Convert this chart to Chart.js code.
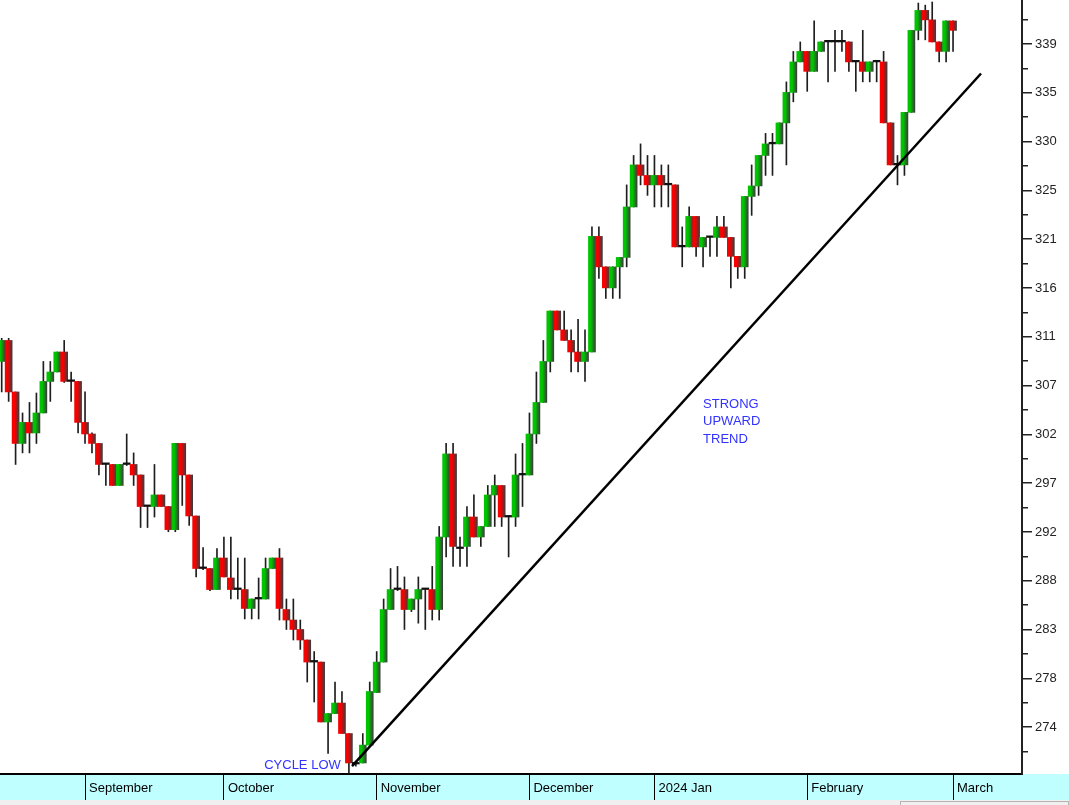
<!DOCTYPE html>
<html>
<head>
<meta charset="utf-8">
<script src="https://cdn.jsdelivr.net/npm/chart.js@4.4.1/dist/chart.umd.min.js"></script>
<style>
  html, body { margin: 0; padding: 0; background: #fff; }
  canvas { display: block; }
</style>
</head>
<body>
<canvas id="chart" width="1069" height="805"></canvas>
<script>
// daily candles, index 0 = 16 Aug 2023, last = 1 Mar 2024
const openPx = [
  308.8, 310.8, 305.9, 301.0, 303.0, 302.0, 303.9, 306.9, 307.8, 309.7,
  306.9, 306.9, 303.0, 301.9, 301.0, 299.0, 299.0, 297.0, 299.0, 299.0,
  298.0, 295.0, 295.0, 296.1, 295.0, 292.8, 301.0, 298.0, 294.1, 289.1,
  289.1, 287.1, 290.1, 288.2, 287.1, 287.1, 285.3, 286.2, 286.2, 289.1,
  290.1, 285.2, 284.2, 283.3, 282.3, 280.2, 280.2, 274.5, 275.3, 276.3,
  273.4, 270.5, 270.6, 272.3, 277.3, 280.2, 285.2, 287.1, 287.1, 285.2,
  286.2, 287.1, 287.1, 285.2, 292.1, 300.0, 291.0, 291.2, 294.0, 292.1,
  293.1, 296.1, 297.0, 294.0, 294.0, 298.0, 298.0, 301.9, 304.9, 308.8,
  313.6, 311.8, 310.8, 309.7, 308.8, 309.7, 320.7, 317.8, 315.8, 317.8,
  318.7, 323.5, 327.5, 326.5, 325.6, 326.5, 325.6, 325.6, 319.7, 319.7,
  322.6, 319.7, 320.6, 320.6, 321.6, 320.6, 318.8, 317.8, 324.5, 325.5,
  328.4, 329.5, 329.5, 331.5, 334.4, 337.3, 338.3, 336.4, 338.3, 339.2,
  339.2, 339.2, 339.2, 337.3, 337.3, 336.4, 337.3, 337.3, 331.5, 327.5,
  327.5, 332.5, 340.3, 342.2, 341.3, 339.2, 338.3, 341.2
];
const closePx = [
  310.8, 305.9, 301.0, 303.0, 302.0, 303.9, 306.9, 307.8, 309.7, 306.9,
  306.9, 303.0, 301.9, 301.0, 299.0, 299.0, 297.0, 299.0, 299.0, 298.0,
  295.0, 295.0, 296.1, 295.0, 292.8, 301.0, 298.0, 294.1, 289.1, 289.1,
  287.1, 290.1, 288.3, 287.1, 287.1, 285.3, 286.2, 286.2, 289.1, 290.1,
  285.3, 284.2, 283.3, 282.3, 280.2, 280.2, 274.5, 275.3, 276.3, 273.4,
  270.6, 270.5, 272.3, 277.4, 280.2, 285.2, 287.1, 287.1, 285.2, 286.2,
  287.1, 287.1, 285.2, 292.1, 300.0, 291.2, 291.0, 294.0, 292.1, 293.1,
  296.1, 297.0, 294.0, 294.0, 298.0, 298.0, 301.9, 304.9, 308.8, 313.6,
  311.8, 310.8, 309.7, 308.8, 309.7, 320.7, 317.8, 315.8, 317.8, 318.7,
  323.5, 327.5, 326.5, 325.6, 326.5, 325.6, 325.6, 319.7, 319.7, 322.6,
  319.7, 320.6, 320.6, 321.6, 320.6, 318.8, 317.8, 324.5, 325.5, 328.4,
  329.5, 329.5, 331.5, 334.4, 337.3, 338.3, 336.4, 338.3, 339.2, 339.2,
  339.2, 339.2, 337.3, 337.3, 336.4, 337.3, 337.3, 331.5, 327.5, 327.5,
  332.5, 340.3, 342.2, 341.3, 339.2, 338.3, 341.2, 340.3
];
const highPx = [
  311.0, 311.0, 305.9, 303.9, 304.9, 305.8, 308.8, 308.8, 309.7, 310.8,
  307.8, 306.9, 305.9, 302.0, 301.0, 299.1, 299.0, 299.0, 301.9, 300.1,
  298.0, 295.0, 299.0, 296.1, 295.0, 301.0, 301.0, 298.0, 294.1, 291.1,
  289.1, 291.0, 292.1, 292.1, 290.1, 290.1, 286.2, 288.2, 290.1, 290.1,
  291.0, 286.2, 286.2, 284.2, 282.3, 281.2, 280.2, 275.3, 278.3, 277.4,
  273.4, 270.7, 273.4, 278.3, 281.2, 286.2, 289.1, 289.3, 288.3, 286.2,
  288.3, 287.1, 289.3, 293.1, 301.0, 301.0, 292.1, 295.0, 296.1, 293.1,
  297.0, 298.0, 297.0, 294.1, 300.0, 301.0, 303.9, 307.8, 310.8, 313.6,
  313.6, 313.6, 311.8, 312.8, 311.8, 321.6, 321.6, 317.8, 317.8, 318.7,
  325.6, 328.4, 329.5, 328.4, 328.4, 327.5, 327.5, 325.6, 321.6, 323.5,
  322.6, 320.6, 320.6, 322.6, 322.6, 320.6, 318.8, 324.5, 327.5, 328.4,
  330.5, 330.5, 331.5, 335.4, 338.3, 339.2, 338.3, 341.2, 339.2, 339.2,
  340.3, 340.3, 339.2, 337.3, 340.3, 337.3, 337.3, 338.3, 331.5, 328.4,
  332.5, 340.3, 342.9, 342.7, 343.0, 339.2, 341.2, 341.2
];
const lowPx = [
  305.9, 305.0, 299.0, 300.1, 300.1, 301.0, 303.9, 305.0, 307.8, 306.8,
  305.0, 302.0, 301.0, 300.1, 298.0, 297.0, 297.0, 297.0, 298.9, 297.0,
  293.0, 293.0, 294.0, 295.0, 292.6, 292.6, 295.1, 293.2, 288.3, 289.0,
  287.0, 287.1, 288.3, 286.2, 286.2, 284.3, 284.3, 284.3, 286.2, 289.1,
  284.2, 283.3, 282.3, 281.4, 278.3, 276.4, 274.5, 271.5, 275.3, 273.4,
  269.6, 270.3, 270.6, 272.3, 277.3, 280.2, 285.2, 287.0, 283.3, 285.0,
  283.9, 283.3, 284.2, 284.2, 290.2, 289.3, 289.3, 289.3, 292.1, 291.2,
  293.1, 293.1, 293.1, 290.2, 293.1, 295.0, 298.0, 301.0, 304.9, 307.8,
  311.8, 310.8, 307.8, 307.8, 306.9, 309.7, 316.7, 314.8, 314.8, 314.8,
  317.8, 323.5, 325.6, 324.6, 323.5, 323.5, 323.5, 319.7, 317.8, 319.7,
  318.8, 317.8, 318.8, 318.8, 320.6, 315.8, 316.7, 316.7, 322.7, 324.6,
  326.5, 326.5, 329.5, 327.5, 333.5, 337.3, 334.5, 336.4, 338.3, 335.4,
  336.4, 338.3, 336.4, 334.5, 335.4, 335.4, 335.4, 331.5, 327.5, 325.6,
  326.5, 332.5, 339.4, 339.4, 339.2, 337.3, 337.3, 338.3
];

// first trading day of each month (candle index)
const monthStart = [12, 32, 54, 76, 94, 116, 137];
const monthLabels = ['September', 'October', 'November', 'December', '2024 Jan', 'February', 'March'];

// price axis labels, evenly spaced
const yLabels = ['274', '278', '283', '288', '292', '297', '302', '307', '311', '316', '321', '325', '330', '335', '339'];
const yFirst = 274;
const yStep = 4.643;

// hand drawn trend line
const trendX = [50.45, 141.03];
const trendY = [270.3, 336.2];

const notes = [
  { text: 'CYCLE LOW', x: 37.8, y: 270.4 },
  { text: 'STRONG', x: 101.0, y: 304.75 },
  { text: 'UPWARD', x: 101.0, y: 303.05 },
  { text: 'TREND', x: 101.0, y: 301.4 }
];

const FONT = '"Liberation Sans", Arial, sans-serif';

function bodyColor(ctx) {
  if (ctx.type !== 'data') return '#888';
  const i = ctx.dataIndex;
  const o = openPx[i], c = closePx[i];
  if (o === c) return '#111';
  const base = c > o ? '#00c400' : '#f80000';
  const xs = ctx.chart.scales.x;
  const px = xs ? xs.getPixelForValue(i) : NaN;
  if (!isFinite(px)) return base;
  const g = ctx.chart.ctx.createLinearGradient(px - 3.5, 0, px + 3.5, 0);
  g.addColorStop(0, base);
  g.addColorStop(0.35, base);
  g.addColorStop(1, '#3c3c3c');
  return g;
}

function noPad(s) {
  s.paddingTop = 0;
  s.paddingBottom = 0;
  s.paddingLeft = 0;
  s.paddingRight = 0;
}

const decor = {
  id: 'decor',
  beforeDraw(chart) {
    const { ctx, width, height } = chart;
    const xs = chart.scales.x;
    ctx.save();
    ctx.fillStyle = '#c0ffff';
    ctx.fillRect(0, xs.top, width, xs.bottom - xs.top);
    ctx.fillStyle = '#f0f0f0';
    ctx.fillRect(0, xs.bottom, width, height - xs.bottom);
    ctx.strokeStyle = '#b4b4b4';
    ctx.strokeRect(900.5, xs.bottom + 1.5, width - 901, height - xs.bottom);
    ctx.restore();
  },
  afterDatasetsDraw(chart) {
    const { ctx } = chart;
    const xs = chart.scales.x, ys = chart.scales.y;
    ctx.save();
    ctx.font = '13px ' + FONT;
    ctx.fillStyle = '#3232ff';
    ctx.textBaseline = 'middle';
    notes.forEach(n => ctx.fillText(n.text, xs.getPixelForValue(n.x), ys.getPixelForValue(n.y)));
    ctx.restore();
  }
};

const yMin = 269.55, yMax = 343.19;

new Chart(document.getElementById('chart'), {
  type: 'bar',
  data: {
    datasets: [
      {
        type: 'line',
        data: trendX.map((x, k) => ({ x: x, y: trendY[k] })),
        borderColor: '#000',
        borderWidth: 2.5,
        pointRadius: 0,
        pointBorderWidth: 0,
        order: 0
      },
      {
        data: openPx.map((o, i) => ({ x: i, y: [o, closePx[i]] })),
        backgroundColor: bodyColor,
        borderWidth: 0,
        barThickness: 7,
        minBarLength: 1.6,
        grouped: false,
        order: 1
      },
      {
        data: lowPx.map((l, i) => ({ x: i, y: [l, highPx[i]] })),
        backgroundColor: '#1e1e1e',
        borderWidth: 0,
        barThickness: 1,
        grouped: false,
        order: 2
      }
    ]
  },
  options: {
    responsive: false,
    animation: false,
    events: [],
    layout: { padding: { top: 0, left: 0, right: 0, bottom: 5 }, autoPadding: false },
    plugins: { legend: { display: false }, tooltip: { enabled: false } },
    scales: {
      x: {
        type: 'linear',
        min: -0.245,
        max: 146.93,
        offset: false,
        afterBuildTicks: s => { s.ticks = monthStart.map(v => ({ value: v })); },
        afterFit: s => { s.height = 26; noPad(s); },
        ticks: {
          callback: (v, k) => monthLabels[k],
          align: 'start',
          labelOffset: 4,
          padding: -19,
          autoSkip: false,
          maxRotation: 0,
          color: '#000',
          font: { family: FONT, size: 13 }
        },
        grid: { drawOnChartArea: false, offset: false, tickLength: 26, color: '#000' },
        border: { display: true, color: '#000', width: 2 }
      },
      yMinor: {
        position: 'right',
        weight: 0,
        min: yMin,
        max: yMax,
        afterBuildTicks: s => {
          const t = [];
          for (let k = -1; k < yLabels.length; k++) {
            const v = yFirst + (k + 0.5) * yStep;
            if (v > yMin && v < yMax) t.push({ value: v });
          }
          s.ticks = t;
        },
        afterFit: s => { s.width = 0; noPad(s); },
        ticks: { display: false },
        grid: { drawOnChartArea: false, tickLength: 6, color: '#222', lineWidth: 1.5 },
        border: { display: false }
      },
      y: {
        position: 'right',
        weight: 1,
        min: yMin,
        max: yMax,
        beginAtZero: false,
        afterBuildTicks: s => { s.ticks = yLabels.map((_, k) => ({ value: yFirst + k * yStep })); },
        afterFit: s => { s.width = 47; noPad(s); },
        ticks: {
          callback: (v, k) => yLabels[k],
          padding: 3,
          color: '#222',
          font: { family: FONT, size: 13 }
        },
        grid: { drawOnChartArea: false, tickLength: 10, color: '#222', lineWidth: 1.5 },
        border: { display: true, color: '#222', width: 2 }
      }
    }
  },
  plugins: [decor]
});
</script>
</body>
</html>
